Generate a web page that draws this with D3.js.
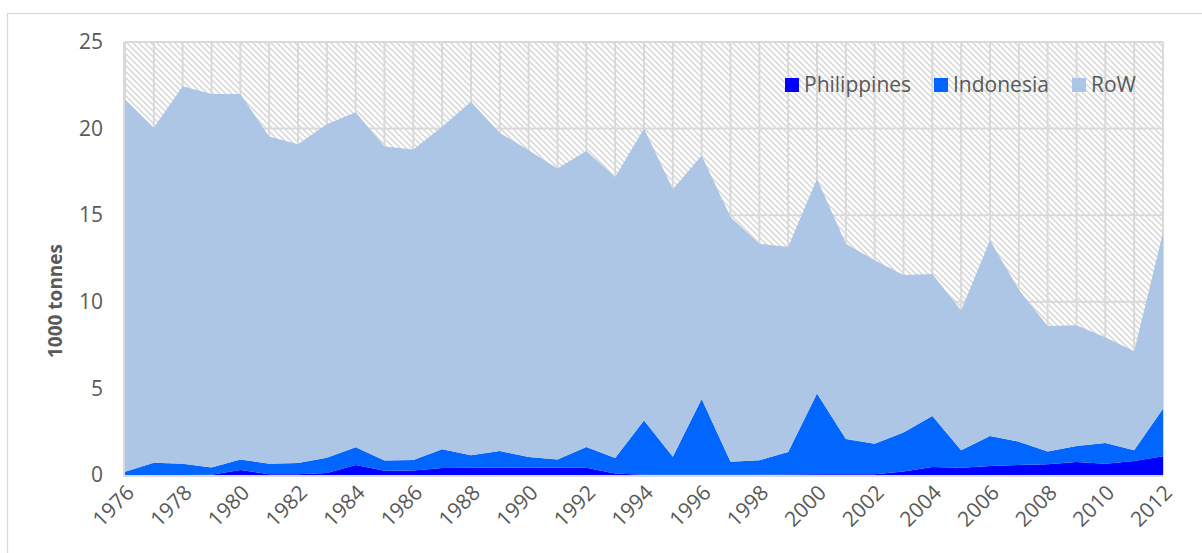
<!DOCTYPE html>
<html>
<head>
<meta charset="utf-8">
<script src="https://cdn.jsdelivr.net/npm/d3@7"></script>
<style>
  html, body { margin: 0; padding: 0; background: #fff; }
  svg { display: block; font-family: 'Open Sans', sans-serif; }
</style>
</head>
<body>
<svg id="chart" width="1202" height="553"></svg>
<script>
// values (1000 tonnes)
const years = d3.range(1976, 2013)
const philippines = [0, 0, 0, 0.02, 0.29, 0.05, 0.05, 0.12, 0.58, 0.24, 0.26, 0.4, 0.42, 0.42, 0.44, 0.42, 0.42, 0.08, 0.02, 0.02, 0.02, 0.02, 0.02, 0.03, 0.05, 0.05, 0.05, 0.2, 0.46, 0.42, 0.52, 0.58, 0.62, 0.75, 0.65, 0.81, 1.08]
const indonesia = [0.19, 0.71, 0.65, 0.42, 0.61, 0.6, 0.64, 0.88, 1.02, 0.59, 0.61, 1.08, 0.72, 0.96, 0.6, 0.48, 1.2, 0.9, 3.12, 1.04, 4.37, 0.75, 0.83, 1.3, 4.65, 2.03, 1.76, 2.25, 2.94, 1.01, 1.73, 1.34, 0.73, 0.92, 1.2, 0.62, 2.75]
const row = [21.51, 19.34, 21.8, 21.56, 21.1, 18.9, 18.41, 19.25, 19.35, 18.14, 17.93, 18.62, 20.41, 18.37, 17.71, 16.8, 17.08, 16.22, 16.86, 15.44, 14.06, 14.13, 12.5, 11.84, 12.4, 11.27, 10.59, 9.1, 8.2, 8.07, 11.3, 8.78, 7.25, 6.98, 6.1, 5.72, 10.17]
const seriesNames = ['Philippines', 'Indonesia', 'RoW']
const seriesColors = ['#0000ff', '#0066ff', '#adc6e5']
const yTicks = [0, 5, 10, 15, 20, 25]
const xTickYears = d3.range(1976, 2013, 2)

const table = years.map((yr, i) => ({
  year: yr,
  Philippines: philippines[i],
  Indonesia: indonesia[i],
  RoW: row[i]
}))

const svg = d3.select('#chart')
const pLeft = 125, pRight = 1163, pTop = 42, pBottom = 475
const x = d3.scaleLinear().domain([1976, 2012]).range([pLeft, pRight])
const y = d3.scaleLinear().domain([0, 25]).range([pBottom, pTop])
const grey = '#d9d9d9'
const textCol = '#595959'
const fontSize = '21px'

// outer chart border (runs off the picture right and below)
svg.append('rect')
  .attr('x', 7.5).attr('y', 13.5)
  .attr('width', 1400).attr('height', 800)
  .attr('fill', 'none').attr('stroke', grey).attr('stroke-width', 1.3)

// hatch pattern for the plot background
const pat = svg.append('defs').append('pattern')
  .attr('id', 'hatch')
  .attr('patternUnits', 'userSpaceOnUse')
  .attr('width', 6).attr('height', 6)
pat.append('path')
  .attr('d', 'M-1,-1L7,7M-4,2L2,8M2,-4L8,2')
  .attr('stroke', '#d6d6d6').attr('stroke-width', 1.5)

svg.append('rect')
  .attr('x', pLeft).attr('y', pTop)
  .attr('width', pRight - pLeft).attr('height', pBottom - pTop)
  .attr('fill', 'url(#hatch)')

// gridlines
svg.append('g').selectAll('line')
  .data(years)
  .join('line')
  .attr('x1', d => x(d)).attr('x2', d => x(d))
  .attr('y1', pTop).attr('y2', pBottom)
  .attr('stroke', grey).attr('stroke-width', 2)
svg.append('g').selectAll('line')
  .data(yTicks)
  .join('line')
  .attr('x1', pLeft).attr('x2', pRight)
  .attr('y1', d => y(d)).attr('y2', d => y(d))
  .attr('stroke', grey).attr('stroke-width', 2)

// stacked areas
const stack = d3.stack().keys(seriesNames)
const layers = stack(table)
const area = d3.area()
  .x(d => x(d.data.year))
  .y0(d => y(d[0]))
  .y1(d => y(d[1]))

svg.append('g').selectAll('path')
  .data(layers)
  .join('path')
  .attr('d', area)
  .attr('fill', (d, i) => seriesColors[i])

// axis lines
svg.append('line')
  .attr('x1', pLeft).attr('x2', pRight)
  .attr('y1', pBottom + 1).attr('y2', pBottom + 1)
  .attr('stroke', grey).attr('stroke-width', 2)
svg.append('line')
  .attr('x1', pLeft - 1).attr('x2', pLeft - 1)
  .attr('y1', pTop).attr('y2', pBottom + 2)
  .attr('stroke', grey).attr('stroke-width', 2)

// y axis labels
const yAxis = svg.append('g')
  .attr('transform', `translate(${pLeft - 22},0)`)
  .call(d3.axisLeft(y).tickValues(yTicks).tickSize(0).tickPadding(0))
yAxis.select('.domain').remove()
yAxis.selectAll('text')
  .attr('fill', textCol)
  .style('font-size', fontSize)
  .style('font-family', 'Open Sans, sans-serif')

// x axis labels
const xAxis = svg.append('g')
  .attr('transform', `translate(0,${pBottom})`)
  .call(d3.axisBottom(x).tickValues(xTickYears).tickFormat(d3.format('d')).tickSize(0))
xAxis.select('.domain').remove()
xAxis.selectAll('text')
  .attr('fill', textCol)
  .style('font-size', fontSize)
  .style('font-family', 'Open Sans, sans-serif')
  .attr('text-anchor', 'end')
  .attr('dy', 0)
  .attr('transform', 'translate(10,19) rotate(-45)')
  .attr('y', 0).attr('x', 0)

// y title
svg.append('text')
  .attr('transform', 'translate(62,301) rotate(-90)')
  .attr('text-anchor', 'middle')
  .attr('fill', textCol)
  .style('font-size', '19px')
  .style('font-weight', 'bold')
  .text('1000 tonnes')

// legend
const legendX = [785, 934, 1072]
const lg = svg.append('g').selectAll('g')
  .data(seriesNames)
  .join('g')
  .attr('transform', (d, i) => `translate(${legendX[i]},78)`)
lg.append('rect')
  .attr('width', 14).attr('height', 14)
  .attr('fill', (d, i) => seriesColors[i])
lg.append('text')
  .attr('x', 19).attr('y', 14)
  .attr('fill', textCol)
  .style('font-size', fontSize)
  .text(d => d)
</script>
</body>
</html>
